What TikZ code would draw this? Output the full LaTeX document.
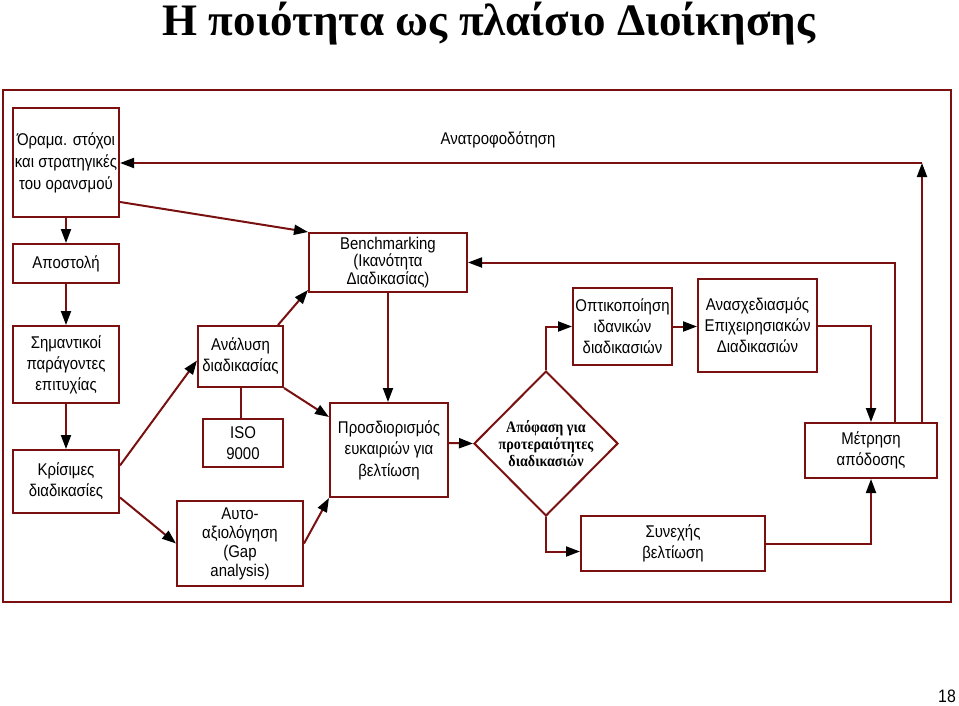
\documentclass[tikz,border=0pt]{standalone}
\usepackage{fontspec}
\setmainfont{Liberation Serif}
\newfontfamily\arialfont[FakeStretch=0.88]{Liberation Sans}
\newfontfamily\choicefont[FakeStretch=0.88]{Liberation Serif}
\usetikzlibrary{arrows.meta}
\usetikzlibrary{calc,backgrounds}
\usetikzlibrary{shapes,shapes.geometric}
\pgfdeclarelayer{edgelayer}
\pgfdeclarelayer{nodelayer}
\pgfsetlayers{background,edgelayer,nodelayer,main}
\definecolor{framered}{RGB}{122,16,16}
\tikzstyle{none}=[inner sep=0mm]
\tikzstyle{box}=[draw=framered,line width=2pt,fill=white,inner sep=2pt,align=center,font=\arialfont\fontsize{17}{21}\selectfont]
\tikzstyle{choice}=[box,shape=diamond,inner sep=-3pt,font=\choicefont\bfseries\fontsize{16}{17}\selectfont]
\tikzstyle{plainedge}=[draw=framered,line width=2pt]
\tikzstyle{diredge}=[plainedge,-{Triangle[length=14pt,width=10pt,color=black]}]

\begin{document}
\begin{tikzpicture}[x=1pt,y=-1pt]
	\useasboundingbox (0,0) rectangle (959,705);
	\begin{pgfonlayer}{nodelayer}
		\node [style=none, anchor=base, font=\bfseries\fontsize{45}{45}\selectfont] (title) at (489, 35) {Η ποιότητα ως πλαίσιο Διοίκησης};
		\node [style=box, minimum width=106, minimum height=109, font=\arialfont\fontsize{17}{22}\selectfont] (vision) at (66, 162.5) {Όραμα. στόχοι\\και στρατηγικές\\του ορανσμού};
		\node [style=box, minimum width=106, minimum height=39] (mission) at (66, 263.5) {Αποστολή};
		\node [style=box, minimum width=106, minimum height=77] (factors) at (66, 364.5) {Σημαντικοί\\παράγοντες\\επιτυχίας};
		\node [style=box, minimum width=106, minimum height=63] (critical) at (66, 481.5) {Κρίσιμες\\διαδικασίες};
		\node [style=box, minimum width=85, minimum height=61] (analysis) at (240.5, 356.5) {Ανάλυση\\διαδικασίας};
		\node [style=box, minimum width=80, minimum height=48] (iso) at (243, 443) {ISO\\9000};
		\node [style=box, minimum width=126, minimum height=85, font=\arialfont\fontsize{17}{19}\selectfont] (selfeval) at (240, 543.5) {Αυτο-\\αξιολόγηση\\(Gap\\analysis)};
		\node [style=box, minimum width=158, minimum height=59, font=\arialfont\fontsize{17}{17.5}\selectfont] (bench) at (388, 262.5) {Benchmarking\\(Ικανότητα\\Διαδικασίας)};
		\node [style=box, minimum width=118, minimum height=94, font=\arialfont\fontsize{17}{21.5}\selectfont] (opport) at (389, 450) {Προσδιορισμός\\ευκαιριών για\\βελτίωση};
		\node [style=choice, minimum width=144, minimum height=145] (decision) at (546, 443.5) {Απόφαση για\\προτεραιότητες\\διαδικασιών};
		\node [style=box, minimum width=99, minimum height=77] (visual) at (622.5, 326.5) {Οπτικοποίηση\\ιδανικών\\διαδικασιών};
		\node [style=box, minimum width=119, minimum height=93] (redesign) at (757.5, 325.5) {Ανασχεδιασμός\\Επιχειρησιακών\\Διαδικασιών};
		\node [style=box, minimum width=132, minimum height=55] (measure) at (871, 450.5) {Μέτρηση\\απόδοσης};
		\node [style=box, minimum width=184, minimum height=55] (improve) at (673, 543.5) {Συνεχής\\βελτίωση};
		\node [style=none, font=\arialfont\fontsize{17}{18}\selectfont] (feedback) at (498, 140) {Ανατροφοδότηση};
		\node [style=none, anchor=base, font=\arialfont\fontsize{18}{18}\selectfont] (pagenum) at (947, 702) {18};
		\coordinate (fbturn) at (922, 163);
	\end{pgfonlayer}
	\begin{pgfonlayer}{edgelayer}
		\draw [style=plainedge] (3, 90) rectangle (951, 602);
		\draw [style=diredge] (vision) to (mission);
		\draw [style=diredge] (mission) to (factors);
		\draw [style=diredge] (factors) to (critical);
		\draw [style=diredge] ($(critical.east)+(0,-16)$) to ($(analysis.west)+(0,4)$);
		\draw [style=diredge] ($(critical.east)+(0,16)$) to (selfeval.west);
		\draw [style=diredge] (selfeval.east) to (opport.south west);
		\draw [style=diredge] (analysis.south east) to ($(opport.west)+(0,-33)$);
		\draw [style=diredge] ($(analysis.north east)+(-6,0)$) to ($(bench.south west)+(0,-3)$);
		\draw [style=diredge] ($(vision.east)+(0,39.5)$) to (bench.north west);
		\draw [style=plainedge] (analysis.south) to (analysis.south |- iso.north);
		\draw [style=diredge] (bench.south) to (bench.south |- opport.north);
		\draw [style=diredge] ($(opport.east)+(0,-7)$) to (decision.west);
		\draw [style=diredge] (decision.north) |- (visual.west);
		\draw [style=diredge] (visual.east) to (visual.east -| redesign.west);
		\draw [style=diredge] (redesign.east) -| (measure.north);
		\draw [style=diredge] (improve.east) -| (measure.south);
		\draw [style=diredge] (decision.south) |- ($(improve.west)+(0,8)$);
		\draw [style=diredge] ($(measure.north)+(24,0)$) |- (bench.east);
		\draw [style=diredge] ($(measure.north)+(51,0)$) to (fbturn);
		\draw [style=diredge] (fbturn) to (vision.east |- fbturn);
	\end{pgfonlayer}
\end{tikzpicture}
\end{document}
